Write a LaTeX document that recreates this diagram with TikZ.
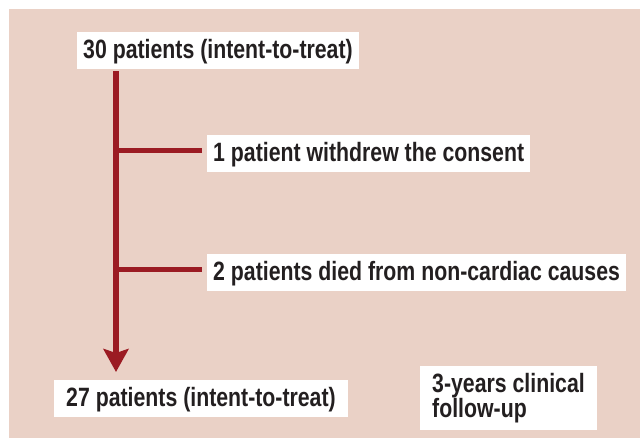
\documentclass[tikz,border=0pt]{standalone}
\usepackage{fontspec}
\setmainfont{Liberation Sans}[FakeStretch=0.803]
\usetikzlibrary{arrows.meta}
\definecolor{bg}{RGB}{234,209,198}
\definecolor{trunkred}{RGB}{155,27,35}
\definecolor{ink}{RGB}{35,31,32}
\begin{document}
\begin{tikzpicture}[x=1pt,y=-1pt,
  basebox/.style={fill=white, text=ink, font=\fontsize{26.5}{25}\selectfont\bfseries, anchor=north west},
  box/.style={basebox, inner xsep=6pt, inner ysep=8.65pt, text height=17.7pt, text depth=2pt},
  notebox/.style={basebox, align=left, inner xsep=12pt, inner ysep=7pt, minimum height=61pt},
  trunk/.style={draw=trunkred, line width=5.5pt},
  ]
\useasboundingbox (0,0) rectangle (640,438);
\fill[bg] (9,9) rectangle (640,438);
\node[box] (n1) at (77,32) {30 patients (intent-to-treat)};
\node[box] (n2) at (207,135) {1 patient withdrew the consent};
\node[box] (n3) at (207,254) {2 patients died from non-cardiac causes};
\node[box, inner xsep=12pt] (n4) at (54,380) {27 patients (intent-to-treat)};
\node[notebox] (n5) at (420,366) {3-years clinical\\follow-up};
\coordinate (tx) at (116,0);
\coordinate (b2) at ([yshift=3pt]n2.west);
\coordinate (b3) at ([yshift=3pt]n3.west);
\draw[trunk, -{Stealth[length=23pt,width=25pt,inset=4pt]}] ([yshift=-2pt]n1.south -| tx) -- ([yshift=8pt]n4.north -| tx);
\draw[trunk, shorten >=5pt] (b2 -| tx) -- (b2);
\draw[trunk, shorten >=5pt] (b3 -| tx) -- (b3);
\end{tikzpicture}
\end{document}
